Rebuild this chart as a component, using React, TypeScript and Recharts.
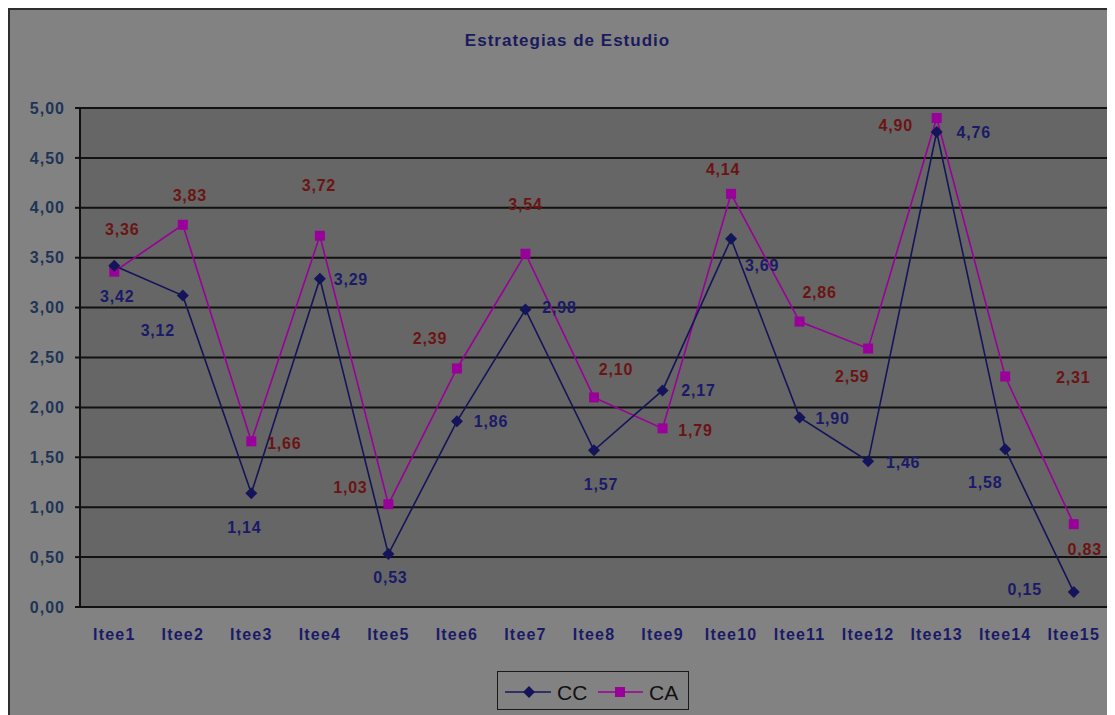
import React from 'react'
import { LineChart, Line, XAxis, YAxis, CartesianGrid } from 'recharts'

const ITEMS = ['Itee1','Itee2','Itee3','Itee4','Itee5','Itee6','Itee7','Itee8','Itee9','Itee10','Itee11','Itee12','Itee13','Itee14','Itee15']
const CC = [3.42, 3.12, 1.14, 3.29, 0.53, 1.86, 2.98, 1.57, 2.17, 3.69, 1.90, 1.46, 4.76, 1.58, 0.15]
const CA = [3.36, 3.83, 1.66, 3.72, 1.03, 2.39, 3.54, 2.10, 1.79, 4.14, 2.86, 2.59, 4.90, 2.31, 0.83]
const Y_TICKS = [0, 0.5, 1, 1.5, 2, 2.5, 3, 3.5, 4, 4.5, 5]

// label offsets from each marker, [dx, dy]
const CC_LABEL_POS = [[3,31],[-25,35],[-7,34],[31,1],[2,23],[34,0],[34,-2],[7,34],[36,0],[31,27],[33,1],[35,1],[37,1],[-20,33],[-49,-3]]
const CA_LABEL_POS = [[8,-42],[7,-29],[33,2],[-1,-50],[-38,-17],[-27,-30],[0,-49],[22,-28],[33,2],[-8,-24],[20,-29],[-16,28],[-41,8],[68,1],[11,25]]

const data = ITEMS.map((item, i) => ({ item, CC: CC[i], CA: CA[i] }))

const FONT = 'Arial, "Liberation Sans", sans-serif'
const CC_COLOR = '#14145a'
const CA_COLOR = '#9a009a'
const CC_TEXT = '#1a1a66'
const CA_TEXT = '#6b1414'

const fmt = (v: number) => v.toFixed(2).replace('.', ',')

const Diamond = ({ cx, cy }: any) =>
  cx == null ? null : <path d={`M${cx},${cy - 6}L${cx + 6},${cy}L${cx},${cy + 6}L${cx - 6},${cy}Z`} fill={CC_COLOR} />

const Square = ({ cx, cy }: any) =>
  cx == null ? null : <rect x={cx - 5} y={cy - 5} width={10} height={10} fill={CA_COLOR} />

const makeLabel = (pos: number[][], color: string) => (props: any) => {
  const { x, y, value, index } = props
  const [dx, dy] = pos[index] || [0, -15]
  return (
    <text x={x + dx} y={y + dy} textAnchor="middle" dominantBaseline="central"
      fill={color} fontFamily={FONT} fontWeight="bold" fontSize={16} letterSpacing={0.8}>
      {fmt(value)}
    </text>
  )
}

export default function App() {
  return (
    <div style={{ position: 'relative', width: 1105, height: 705, background: '#828282',
      borderLeft: '2px solid #2e2e2e', borderTop: '2px solid #2e2e2e', fontFamily: FONT }}>
      <div style={{ position: 'absolute', left: 0, top: 21, width: 1115, textAlign: 'center',
        fontWeight: 'bold', fontSize: 17, letterSpacing: 1, color: '#1a1a5c' }}>
        Estrategias de Estudio
      </div>
      <LineChart width={1105} height={705} data={data}
        margin={{ top: 98, right: 7, left: 0, bottom: 68 }}>
        <CartesianGrid vertical={false} fill="#666666" stroke="#111" strokeWidth={2}
          yAxisId="l" xAxisId="cat" />
        <XAxis xAxisId="tick" type="number" domain={[0, 15]} ticks={[0,1,2,3,4,5,6,7,8,9,10,11,12,13,14,15]}
          tick={false} height={0} axisLine={false} tickSize={6} tickLine={{ stroke: '#111', strokeWidth: 2 }} />
        <XAxis xAxisId="cat" dataKey="item" scale="band" height={40} tickLine={false} tickSize={6} tickMargin={16}
          axisLine={{ stroke: '#111', strokeWidth: 2 }} interval={0}
          tick={{ fill: CC_TEXT, fontFamily: FONT, fontWeight: 'bold', fontSize: 16, letterSpacing: 1.2 }} />
        <XAxis xAxisId="top" orientation="top" type="number" domain={[0, 15]} height={0}
          tick={false} tickLine={false} axisLine={{ stroke: '#454545', strokeWidth: 2 }} />
        <YAxis yAxisId="l" domain={[0, 5]} ticks={Y_TICKS} width={70} tickFormatter={fmt}
          tickSize={5} tickMargin={10} interval={0}
          axisLine={{ stroke: '#111', strokeWidth: 2 }} tickLine={{ stroke: '#111', strokeWidth: 2 }}
          tick={{ fill: '#1e3456', fontFamily: FONT, fontWeight: 'bold', fontSize: 16, letterSpacing: 1 }} />
        <YAxis yAxisId="r" orientation="right" domain={[0, 5]} width={0} tick={false} tickLine={false}
          axisLine={{ stroke: '#454545', strokeWidth: 2 }} />
        <Line xAxisId="cat" yAxisId="l" type="linear" dataKey="CA" stroke={CA_COLOR} strokeWidth={1.6}
          dot={<Square />} activeDot={false} isAnimationActive={false}
          label={makeLabel(CA_LABEL_POS, CA_TEXT)} />
        <Line xAxisId="cat" yAxisId="l" type="linear" dataKey="CC" stroke={CC_COLOR} strokeWidth={1.6}
          dot={<Diamond />} activeDot={false} isAnimationActive={false}
          label={makeLabel(CC_LABEL_POS, CC_TEXT)} />
      </LineChart>
      <div style={{ position: 'absolute', left: 487, top: 661, width: 190, height: 37,
        border: '1px solid #1a1a1a' }}>
        <svg width={190} height={37} style={{ display: 'block' }}>
          <line x1={7} x2={53} y1={20} y2={20} stroke={CC_COLOR} strokeWidth={1.6} />
          <path d="M31,14L37,20L31,26L25,20Z" fill={CC_COLOR} />
          <text x={59} y={28} fontFamily={FONT} fontSize={21} fill="#111">CC</text>
          <line x1={100} x2={145} y1={20} y2={20} stroke={CA_COLOR} strokeWidth={1.6} />
          <rect x={117} y={15} width={10} height={10} fill={CA_COLOR} />
          <text x={151} y={28} fontFamily={FONT} fontSize={21} fill="#111">CA</text>
        </svg>
      </div>
    </div>
  )
}
